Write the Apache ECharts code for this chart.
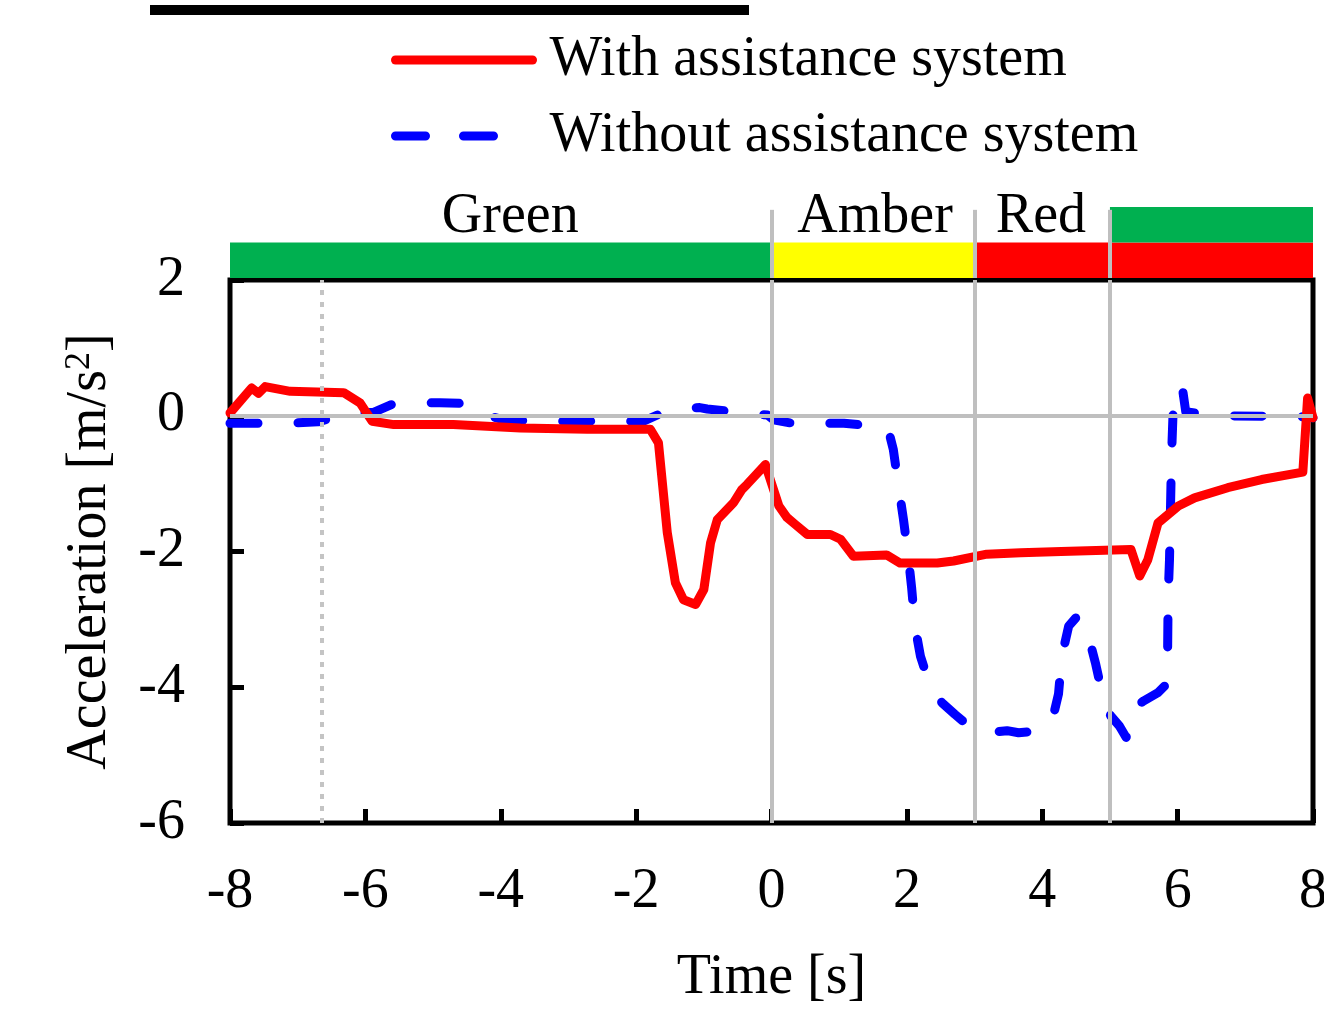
<!DOCTYPE html>
<html>
<head>
<meta charset="utf-8">
<script src="https://cdn.jsdelivr.net/npm/echarts@6/dist/echarts.min.js"></script>
<style>
  html, body { margin: 0; padding: 0; background: #fff; }
  #chart { width: 1324px; height: 1010px; }
</style>
</head>
<body>
<div id="chart"></div>
<script>
// acceleration with the assistance system [time s, accel m/s2]
const withAssist = [
  [-8, 0.04], [-7.68, 0.41], [-7.58, 0.33], [-7.48, 0.43], [-7.11, 0.36], [-6.32, 0.34],
  [-6.08, 0.19], [-5.9, -0.08], [-5.58, -0.13], [-4.7, -0.13], [-3.71, -0.18], [-2.72, -0.2],
  [-1.79, -0.2], [-1.67, -0.4], [-1.54, -1.72], [-1.42, -2.46], [-1.3, -2.71], [-1.12, -2.78],
  [-1.0, -2.56], [-0.9, -1.87], [-0.8, -1.53], [-0.56, -1.28], [-0.44, -1.09], [-0.36, -1.01],
  [-0.09, -0.72], [0.11, -1.33], [0.23, -1.5], [0.35, -1.6], [0.53, -1.75], [0.87, -1.75],
  [1.02, -1.82], [1.21, -2.07], [1.7, -2.05], [1.9, -2.17], [2.45, -2.17], [2.69, -2.14],
  [3.18, -2.04], [3.68, -2.02], [4.28, -2.0], [5.31, -1.97], [5.44, -2.36], [5.56, -2.12],
  [5.71, -1.58], [6.01, -1.33], [6.25, -1.21], [6.74, -1.06], [7.24, -0.94], [7.85, -0.83],
  [7.92, 0.26], [8.0, -0.03]
]
// acceleration without the assistance system
const withoutAssist = [
  [-8, -0.11], [-7.1, -0.11], [-6.7, -0.09], [-6.45, -0.02], [-6.1, 0.04], [-5.88, 0.05],
  [-5.6, 0.17], [-5.39, 0.19], [-4.9, 0.19], [-4.5, 0.18], [-4.35, 0.14], [-4.21, 0.01],
  [-3.96, -0.06], [-3.41, -0.08], [-1.89, -0.08], [-1.6, 0.05], [-1.45, 0.1], [-1.06, 0.12],
  [-0.95, 0.1], [-0.41, 0.04], [-0.06, 0.01], [0.03, -0.06], [0.3, -0.11], [1.07, -0.11],
  [1.6, -0.16], [1.72, -0.18], [1.8, -0.5], [1.88, -1.06], [1.95, -1.53], [2.02, -2.07],
  [2.07, -2.53], [2.12, -3.1], [2.2, -3.54], [2.3, -3.85], [2.42, -4.08], [2.52, -4.23],
  [2.71, -4.4], [2.95, -4.6], [3.21, -4.67], [3.48, -4.64], [3.65, -4.67], [3.9, -4.65],
  [4.14, -4.52], [4.24, -4.1], [4.29, -3.54], [4.39, -3.1], [4.52, -2.95], [4.67, -3.2],
  [4.79, -3.66], [4.91, -4.2], [5.01, -4.42], [5.14, -4.57], [5.24, -4.74], [5.35, -4.3],
  [5.5, -4.2], [5.71, -4.08], [5.83, -3.96], [5.85, -3.69], [5.86, -2.66], [5.88, -2.12],
  [5.9, -1.09], [5.91, -0.6], [5.93, -0.03], [5.95, 0.41], [6.07, 0.41], [6.12, 0.06],
  [6.25, 0.04], [6.5, 0.0], [7.8, -0.01], [8.0, -0.03]
]
const xTicks = [-8, -6, -4, -2, 0, 2, 4, 6, 8]
const yTicks = [-6, -4, -2, 0, 2]
// warning phases: [start, end, colour, row]
const phases = [
  [-8, 0, '#00b050', 0],
  [0, 3, '#ffff00', 0],
  [3, 5, '#ff0000', 0],
  [5, 8, '#ff0000', 0],
  [5, 8, '#00b050', 1]
]
const phaseLabels = [[-3.86, 1.72, 'Green'], [1.53, 1.72, 'Amber'], [3.98, 1.72, 'Red']]
const phaseBounds = [0, 3, 5]
const markerTime = -6.64

const font = '"Liberation Serif", "Times New Roman", serif'
const chart = echarts.init(document.getElementById('chart'))

const option = {
  backgroundColor: '#fff',
  animation: false,
  graphic: [
    // cut-off black bar at the very top
    { type: 'rect', shape: { x: 150, y: 5, width: 599, height: 10 }, style: { fill: '#000' } }
  ],
  legend: [
    {
      data: ['With assistance system'],
      left: 386, top: 27,
      itemWidth: 137, itemHeight: 20,
      selectedMode: false,
      itemStyle: { opacity: 0 },
      lineStyle: { width: 9, cap: 'round' },
      textStyle: { fontFamily: font, fontSize: 56, color: '#000', padding: [0, 0, 0, 12] }
    },
    {
      data: ['Without assistance system'],
      left: 386, top: 103,
      itemWidth: 99, itemHeight: 20,
      selectedMode: false,
      itemStyle: { opacity: 0 },
      lineStyle: { width: 9, type: [30, 38], cap: 'round' },
      textStyle: { fontFamily: font, fontSize: 56, color: '#000', padding: [0, 0, 0, 50] }
    }
  ],
  grid: [
    {
      left: 230, right: 11, top: 280, bottom: 187,
      show: true, borderColor: '#000', borderWidth: 5,
      outerBoundsMode: 'none'
    },
    { left: 230, right: 11, top: 207, height: 71, outerBoundsMode: 'none' }
  ],
  xAxis: [
    {
      type: 'value', min: -8, max: 8, interval: 2,
      name: 'Time [s]', nameLocation: 'middle', nameGap: 127,
      nameTextStyle: { fontFamily: font, fontSize: 56, color: '#000' },
      axisLine: { show: false, onZero: false },
      axisTick: { inside: true, length: 14, lineStyle: { color: '#000', width: 5 } },
      axisLabel: {
        fontFamily: font, fontSize: 56, color: '#000', margin: 41,
        formatter: v => (xTicks.includes(v) ? String(v) : '')
      },
      splitLine: { show: false }
    },
    { type: 'value', min: -8, max: 8, gridIndex: 1, show: false }
  ],
  yAxis: [
    {
      type: 'value', min: -6, max: 2, interval: 2,
      name: 'Acceleration [m/s{sup|2}]', nameLocation: 'middle', nameGap: 112,
      nameTextStyle: {
        fontFamily: font, fontSize: 56, color: '#000',
        rich: { sup: { fontFamily: font, fontSize: 36, color: '#000', verticalAlign: 'top', padding: [0, 0, 20, 0] } }
      },
      axisLine: { show: false, onZero: false },
      axisTick: { inside: true, length: 14, lineStyle: { color: '#000', width: 5 } },
      axisLabel: {
        fontFamily: font, fontSize: 56, color: '#000', margin: 45,
        formatter: v => (yTicks.includes(v) ? String(v) : '')
      },
      splitLine: { show: false }
    },
    { type: 'value', min: 0, max: 2, gridIndex: 1, show: false }
  ],
  series: [
    {
      // phase bars above the plot
      type: 'scatter', xAxisIndex: 1, yAxisIndex: 1, z: 1,
      symbolSize: 0,
      itemStyle: { opacity: 1 },
      data: phaseLabels.map(p => ({ value: [p[0], p[1]], name: p[2] })),
      label: {
        show: true, position: 'inside', formatter: p => p.name,
        fontFamily: font, fontSize: 56, color: '#000', opacity: 1
      },
      markArea: {
        silent: true,
        data: phases.map(p => [
          { xAxis: p[0], yAxis: p[3], itemStyle: { color: p[2], opacity: 1 } },
          { xAxis: p[1], yAxis: p[3] + 1 }
        ])
      }
    },
    {
      type: 'line', xAxisIndex: 1, yAxisIndex: 1, z: 2, data: [],
      markLine: {
        silent: true, symbol: 'none', label: { show: false },
        lineStyle: { color: '#bfbfbf', width: 4, type: 'solid' },
        data: phaseBounds.map(b => [{ coord: [b, 0] }, { coord: [b, 1.92] }])
      }
    },
    {
      type: 'line', z: 2, data: [],
      markLine: {
        silent: true, symbol: 'none', label: { show: false },
        lineStyle: { color: '#bfbfbf', width: 4, type: 'solid' },
        data: [{ yAxis: 0 }]
          .concat(phaseBounds.map(b => ({ xAxis: b })))
          .concat([{ xAxis: markerTime, lineStyle: { type: [5, 7], width: 4, color: '#c4c4c4' } }])
      }
    },
    {
      name: 'Without assistance system',
      type: 'line', z: 3, symbol: 'none',
      data: withoutAssist,
      lineStyle: { color: '#0000ff', width: 9, type: [28, 40], cap: 'round', join: 'round' },
      itemStyle: { color: '#0000ff' }
    },
    {
      name: 'With assistance system',
      type: 'line', z: 4, symbol: 'none',
      data: withAssist,
      lineStyle: { color: '#ff0000', width: 9, cap: 'round', join: 'round' },
      itemStyle: { color: '#ff0000' }
    }
  ]
}

chart.setOption(option)
</script>
</body>
</html>
